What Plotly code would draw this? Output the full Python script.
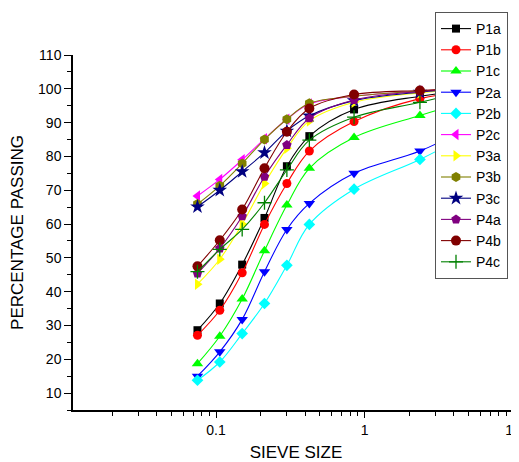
import plotly.graph_objects as go

sieve = [0.075, 0.106, 0.15, 0.212, 0.3, 0.425, 0.85, 2.36, 4.75]

series_names = ["P1a", "P1b", "P1c", "P2a", "P2b", "P2c",
                "P3a", "P3b", "P3c", "P4a", "P4b", "P4c"]

P1a = [28.6, 36.5, 48.0, 61.8, 77.1, 86.0, 93.9, 97.8, 99.5]
P1b = [27.1, 34.5, 45.6, 59.9, 72.0, 81.6, 90.3, 97.1, 99.0]
P1c = [18.7, 26.8, 37.8, 52.1, 65.6, 76.5, 85.6, 92.1, 96.0]
P2a = [15.0, 22.2, 31.8, 45.9, 58.4, 66.1, 75.0, 81.6, 88.0]
P2b = [13.8, 19.2, 27.6, 36.5, 47.8, 59.9, 70.3, 79.1, 86.0]
P2c = [68.3, 73.2, 79.0, 85.2, 91.0, 95.5, 97.8, 99.3, 100.0]
P3a = [42.2, 49.6, 60.0, 72.0, 82.4, 90.5, 96.0, 98.8, 99.8]
P3b = [65.9, 71.3, 77.9, 85.0, 91.0, 95.7, 97.8, 99.3, 100.0]
P3c = [65.1, 70.0, 75.5, 81.1, 87.5, 92.0, 96.5, 99.0, 100.0]
P4a = [45.4, 52.8, 62.3, 74.0, 83.4, 91.3, 96.7, 99.2, 100.0]
P4b = [47.5, 55.2, 64.3, 76.5, 87.3, 94.2, 98.3, 99.5, 100.0]
P4c = [45.9, 52.5, 58.4, 66.3, 76.0, 84.8, 91.6, 96.0, 99.3]

values = [P1a, P1b, P1c, P2a, P2b, P2c, P3a, P3b, P3c, P4a, P4b, P4c]

colors = ["#000000", "#FF0000", "#00FF00", "#0000FF", "#00FFFF", "#FF00FF",
          "#FFFF00", "#808000", "#000080", "#800080", "#800000", "#008000"]
symbols = ["square", "circle", "triangle-up", "triangle-down", "diamond",
           "triangle-left", "triangle-right", "hexagon", "star", "pentagon",
           "circle", "cross-thin"]
sizes = [8, 9, 10, 10, 9, 10, 10, 10, 11, 10, 10, 10]

fig = go.Figure()
for name, vals, col, sym, sz in zip(series_names, values, colors, symbols, sizes):
    marker = dict(symbol=sym, color=col, size=sz, line=dict(width=0, color=col))
    if sym == "cross-thin":
        marker["line"] = dict(width=1.3, color=col)
    fig.add_trace(go.Scatter(
        x=sieve, y=vals, name=name, mode="lines+markers",
        line=dict(color=col, width=1.1, shape="spline", smoothing=1.0),
        marker=marker, hoverinfo="skip",
    ))

FONT = "Arial, Liberation Sans, sans-serif"

# page body has an 8px default margin; the figure is sized to fill the rest
OFF = 8
W, H = 519 - OFF, 462 - OFF

fig.update_layout(
    width=W, height=H,
    margin=dict(l=73 - OFF, r=0, t=55 - OFF, b=52, autoexpand=False),
    paper_bgcolor="white", plot_bgcolor="white",
    font=dict(family=FONT, color="black", size=14),
    showlegend=True,
    legend=dict(
        xref="container", yref="container",
        x=(435 - OFF) / W, y=1 - (12 - OFF) / H, xanchor="left", yanchor="top",
        bgcolor="white", bordercolor="#555555", borderwidth=1,
        font=dict(family=FONT, size=14, color="black"),
        tracegroupgap=0, maxheight=320,
    ),
    xaxis=dict(
        type="log", range=[-1.963, 1.040],
        tickvals=[0.01, 0.1, 1, 10], ticktext=["0.01", "0.1", "1", "10"],
        ticks="outside", ticklen=6, tickwidth=1, tickcolor="black",
        ticklabeloverflow="allow",
        showline=True, linecolor="black", linewidth=1.5, mirror=False,
        showgrid=False, zeroline=False,
        minor=dict(ticks="outside", ticklen=4, tickwidth=1, tickcolor="black",
                   dtick="D1", showgrid=False),
        tickfont=dict(size=14),
        title=dict(text="SIEVE SIZE", font=dict(size=17), standoff=10),
    ),
    yaxis=dict(
        range=[5, 110], tick0=10, dtick=10,
        ticks="outside", ticklen=7, tickwidth=1, tickcolor="black",
        showline=True, linecolor="black", linewidth=1.5, mirror=False,
        showgrid=False, zeroline=False,
        minor=dict(ticks="outside", ticklen=4, tickwidth=1, tickcolor="black",
                   dtick=5, tick0=5, showgrid=False),
        tickfont=dict(size=14),
        title=dict(text="PERCENTAGE PASSING", font=dict(size=17), standoff=12),
    ),
)

fig.write_html("out.html")
